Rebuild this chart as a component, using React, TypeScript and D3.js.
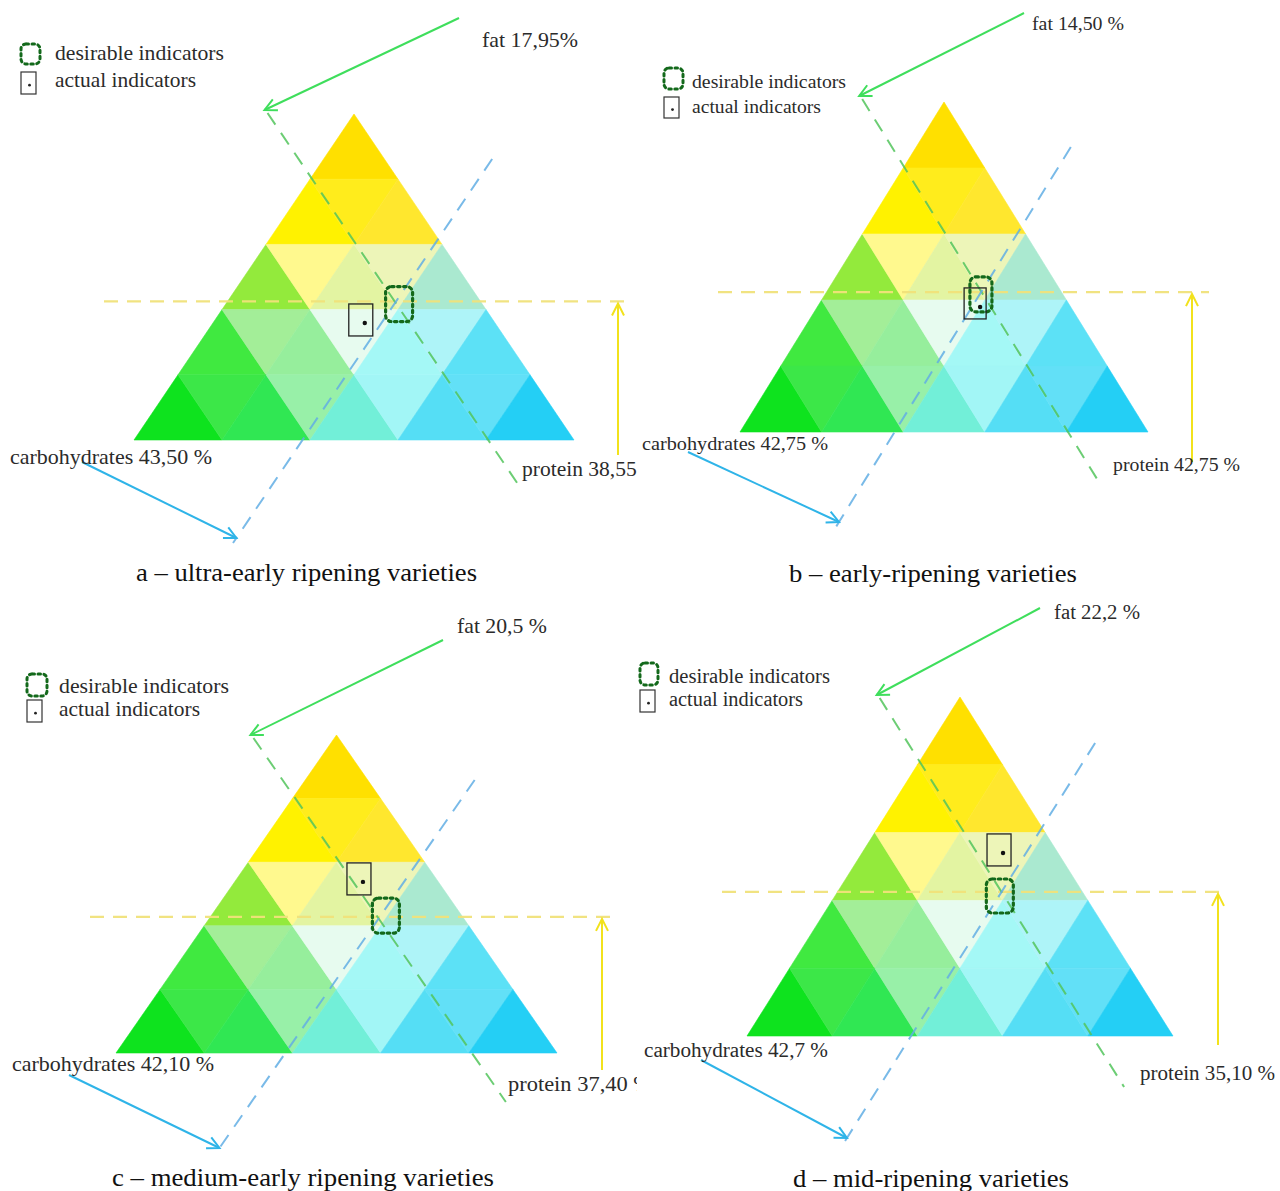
import React from "react";
import * as d3 from "d3";

// ---------- data ----------
const captions = [
  "a – ultra-early ripening varieties",
  "b – early-ripening varieties",
  "c – medium-early ripening varieties",
  "d – mid-ripening varieties",
];
const fatLabels = ["fat  17,95%", "fat 14,50 %", "fat 20,5 %", "fat 22,2 %"];
const carbLabels = [
  "carbohydrates 43,50 %",
  "carbohydrates 42,75 %",
  "carbohydrates 42,10 %",
  "carbohydrates 42,7 %",
];
const proteinLabels = ["protein 38,55 %", "protein 42,75 %", "protein 37,40 %", "protein 35,10 %"];
const legendLabels = ["desirable indicators", "actual indicators"];

// desirable composition guide lines (shares)
const desiredCarbs = [0.425, 0.424, 0.428, 0.425]; // horizontal yellow line (top vertex)
const desiredFat = [0.195, 0.196, 0.193, 0.19]; // green line (bottom-left vertex)
const desiredProtein = [0.383, 0.379, 0.384, 0.385]; // blue line (bottom-right vertex)

// desirable indicator marker (carbs, protein shares)
const desMarkCarbs = [0.417, 0.417, 0.432, 0.413];
const desMarkProtein = [0.394, 0.382, 0.396, 0.387];

// actual indicator point (carbs, protein shares)
const actualCarbs = [0.359, 0.379, 0.538, 0.54];
const actualProtein = [0.345, 0.399, 0.291, 0.331];

// ternary colour cells, row by row from the top
const cellColors = [
  ["#FFE000"],
  ["#FFF200", "#FFEC1C", "#FFE72E"],
  ["#93EA3C", "#FFF98E", "#E3F4A2", "#EDF5B8", "#AAE9D0"],
  ["#40E940", "#A3EE98", "#96EE9C", "#E7FBEF", "#A4F8F6", "#AEF4F8", "#5CE1F6"],
  ["#0EE31E", "#3CE748", "#30E753", "#98F0A8", "#72EFD8", "#A2F6F6", "#55DEF5", "#62E0F7", "#24CFF5"],
];

// ---------- layout ----------
type Lay = any;
const layouts: Lay[] = [
  {
    apexY: 114, baseY: 440, left: 134, right: 574, clip: true, fs: 21,
    hLine: [104, 629], gY: [113, 490], bY: [159, 543],
    gFrom: [459, 18], bFrom: [82, 462], yX: 618, yBottom: 455,
    fat: [482, 47, 96], carb: [10, 464, 202], prot: [522, 476, 138], cap: [136, 581, 341],
    legDes: [21, 44, 19, 20], legAct: [21, 72, 15, 22], legX: 55, legB: [60, 87], legW: [169, 141],
    desSize: [27, 35], actSize: [24, 32],
  },
  {
    apexY: 102, baseY: 432, left: 740, right: 1148, clip: false, fs: 19.5,
    hLine: [718, 1209], gY: [99, 480], bY: [147, 527],
    gFrom: [1024, 13], bFrom: [688, 452], yX: 1192, yBottom: 462,
    fat: [1032, 30, 92], carb: [642, 450, 186], prot: [1113, 471, 127], cap: [789, 582, 288],
    legDes: [664, 68, 19, 21], legAct: [664, 97, 15, 21], legX: 692, legB: [88, 113], legW: [154, 129],
    desSize: [22, 35], actSize: [22, 31],
  },
  {
    apexY: 735, baseY: 1053, left: 116, right: 557, clip: true, fs: 21,
    hLine: [90, 612], gY: [738, 1102], bY: [780, 1153],
    gFrom: [443, 640], bFrom: [69, 1075], yX: 602, yBottom: 1070,
    fat: [457, 633, 90], carb: [12, 1071, 202], prot: [508, 1091, 144], cap: [112, 1186, 382],
    legDes: [27, 674, 20, 22], legAct: [27, 700, 15, 22], legX: 59, legB: [693, 716], legW: [170, 141],
    desSize: [27, 35], actSize: [24, 32],
  },
  {
    apexY: 697, baseY: 1036, left: 747, right: 1173, clip: false, fs: 20,
    hLine: [722, 1224], gY: [698, 1087], bY: [743, 1143],
    gFrom: [1040, 608], bFrom: [701, 1060], yX: 1218, yBottom: 1045,
    fat: [1054, 619, 86], carb: [644, 1057, 184], prot: [1140, 1080, 135], cap: [793, 1187, 276],
    legDes: [640, 663, 18, 22], legAct: [640, 690, 15, 22], legX: 669, legB: [683, 706], legW: [161, 134],
    desSize: [27, 34], actSize: [24, 32],
  },
];

const TEXT = "#2b2b2b";
const GREEN_DASH = "#52C45C";
const BLUE_DASH = "#62AEE4";
const YELLOW_DASH = "#F0E27A";
const GREEN_ARROW = "#3FDE5C";
const BLUE_ARROW = "#2FB4E8";
const YELLOW_ARROW = "#F2E21C";
const DES_COLOR = "#13691B";

function Panel({ idx }: { idx: number }) {
  const L = layouts[idx];
  const xS = d3.scaleLinear().domain([0, 1]).range([L.left, L.right]);
  const yS = d3.scaleLinear().domain([0, 1]).range([L.baseY, L.apexY]);
  const pt = (t: number, b: number): [number, number] => [xS(b + t / 2), yS(t)];
  const n = 5;

  const cells: { d: string; fill: string }[] = [];
  for (let r = 0; r < n; r++) {
    const i = n - 1 - r;
    for (let k = 0; k <= 2 * r; k++) {
      let v: [number, number][];
      if (k % 2 === 0) {
        const j = k / 2;
        v = [[i, j], [i, j + 1], [i + 1, j]];
      } else {
        const j = (k - 1) / 2;
        v = [[i, j + 1], [i + 1, j], [i + 1, j + 1]];
      }
      const p = v.map(([a, b]) => pt(a / n, b / n));
      cells.push({ d: d3.line()(p) + "Z", fill: cellColors[r][k] });
    }
  }

  const line = d3.line();
  const c = desiredCarbs[idx];
  const g = desiredFat[idx];
  const b = desiredProtein[idx];
  const hy = yS(c);
  const gPt = (y: number): [number, number] => {
    const t = yS.invert(y);
    return [xS(1 - g - t / 2), y];
  };
  const bPt = (y: number): [number, number] => {
    const t = yS.invert(y);
    return [xS(b + t / 2), y];
  };
  const gTop = gPt(L.gY[0]);
  const bBot = bPt(L.bY[1] - 5);

  const des = pt(desMarkCarbs[idx], desMarkProtein[idx]);
  const act = pt(actualCarbs[idx], actualProtein[idx]);

  const fs = L.fs;
  const txt = (s: string, a: number[], size = fs) => (
    <text x={a[0]} y={a[1]} fontSize={size} fill={TEXT} textLength={a[2]} lengthAdjust="spacingAndGlyphs">
      {s}
    </text>
  );

  return (
    <g clipPath={L.clip ? "url(#clipLeft)" : undefined}>
      {cells.map((cl, i) => (
        <path key={i} d={cl.d} fill={cl.fill} stroke={cl.fill} strokeWidth={0.6} />
      ))}
      {/* guide lines */}
      <path
        d={line([[L.hLine[0], hy], [L.hLine[1], hy]])!}
        stroke={YELLOW_DASH} strokeWidth={2.2} strokeDasharray="14 9" fill="none" opacity={0.95}
      />
      <path
        d={line([gPt(L.gY[0]), gPt(L.gY[1])])!}
        stroke={GREEN_DASH} strokeWidth={2} strokeDasharray="14 10" fill="none" opacity={0.85}
      />
      <path
        d={line([bPt(L.bY[0]), bPt(L.bY[1])])!}
        stroke={BLUE_DASH} strokeWidth={2} strokeDasharray="14 10" fill="none" opacity={0.85}
      />
      {/* markers */}
      <rect
        x={des[0] - L.desSize[0] / 2} y={des[1] - L.desSize[1] / 2}
        width={L.desSize[0]} height={L.desSize[1]} rx={6}
        fill="none" stroke={DES_COLOR} strokeWidth={3.2} strokeDasharray="2.5 3.5" strokeLinecap="round"
      />
      <rect
        x={act[0] - 16} y={act[1] - 19} width={L.actSize[0]} height={L.actSize[1]}
        fill="none" stroke="#222" strokeWidth={1.3}
      />
      <circle cx={act[0]} cy={act[1]} r={2.2} fill="#111" />
      {/* arrows */}
      <path
        d={line([L.gFrom, [gTop[0] - 3, gTop[1] - 3]])!}
        stroke={GREEN_ARROW} strokeWidth={2} fill="none" markerEnd="url(#arrG)"
      />
      <path
        d={line([L.bFrom, bBot])!}
        stroke={BLUE_ARROW} strokeWidth={2} fill="none" markerEnd="url(#arrB)"
      />
      <path
        d={line([[L.yX, L.yBottom], [L.yX, hy + 2]])!}
        stroke={YELLOW_ARROW} strokeWidth={2} fill="none" markerEnd="url(#arrY)"
      />
      {/* labels */}
      {txt(fatLabels[idx], L.fat)}
      {txt(carbLabels[idx], L.carb)}
      {txt(proteinLabels[idx], L.prot)}
      {/* legend */}
      <rect
        x={L.legDes[0]} y={L.legDes[1]} width={L.legDes[2]} height={L.legDes[3]} rx={5}
        fill="none" stroke={DES_COLOR} strokeWidth={3} strokeDasharray="2.5 3.5" strokeLinecap="round"
      />
      <rect
        x={L.legAct[0]} y={L.legAct[1]} width={L.legAct[2]} height={L.legAct[3]}
        fill="none" stroke="#333" strokeWidth={1.2}
      />
      <circle cx={L.legAct[0] + L.legAct[2] / 2 + 1} cy={L.legAct[1] + L.legAct[3] * 0.6} r={1.4} fill="#222" />
      {txt(legendLabels[0], [L.legX, L.legB[0], L.legW[0]])}
      {txt(legendLabels[1], [L.legX, L.legB[1], L.legW[1]])}
      {/* caption */}
      <text
        x={L.cap[0]} y={L.cap[1]} fontSize={25} fill="#111"
        textLength={L.cap[2]} lengthAdjust="spacingAndGlyphs"
      >
        {captions[idx]}
      </text>
    </g>
  );
}

function Arrow({ id, color }: { id: string; color: string }) {
  return (
    <marker
      id={id} markerUnits="userSpaceOnUse" markerWidth={18} markerHeight={18}
      refX={15} refY={9} orient="auto" viewBox="0 0 18 18"
    >
      <path d="M3,3 L15,9 L3,15" fill="none" stroke={color} strokeWidth={2} />
    </marker>
  );
}

export default function App() {
  return (
    <svg
      width={1280} height={1191} viewBox="0 0 1280 1191"
      style={{ position: "absolute", left: 0, top: 0, background: "#ffffff" }}
      fontFamily="'Liberation Serif', 'Times New Roman', serif"
    >
      <defs>
        <Arrow id="arrG" color={GREEN_ARROW} />
        <Arrow id="arrB" color={BLUE_ARROW} />
        <Arrow id="arrY" color={YELLOW_ARROW} />
        <clipPath id="clipLeft">
          <rect x={0} y={0} width={637} height={1191} />
        </clipPath>
      </defs>
      <rect x={0} y={0} width={1280} height={1191} fill="#fff" />
      {layouts.map((_, i) => (
        <Panel key={i} idx={i} />
      ))}
    </svg>
  );
}
